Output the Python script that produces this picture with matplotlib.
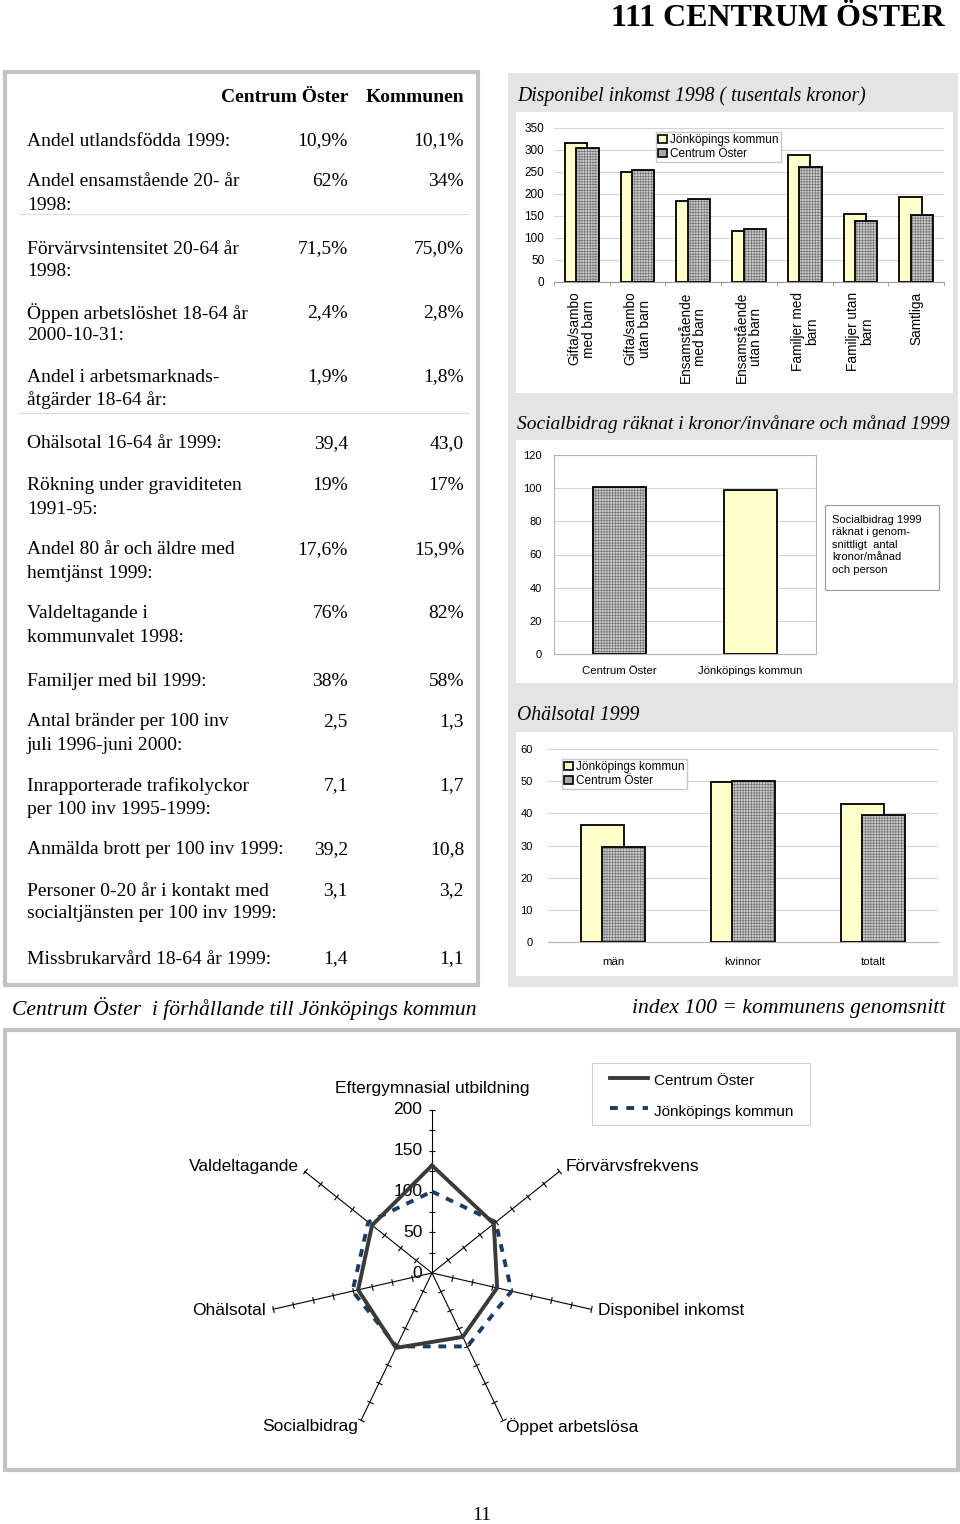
import matplotlib
matplotlib.use('Agg')
import matplotlib.pyplot as plt
from matplotlib.patches import Rectangle, Patch
from matplotlib.lines import Line2D
import numpy as np

# ---------------- data ----------------
page_title = "111 CENTRUM ÖSTER"
page_number = "11"

table_header = ["Centrum Öster", "Kommunen"]
table_labels = [
    "Andel utlandsfödda 1999:",
    "Andel ensamstående 20- år\n1998:",
    "Förvärvsintensitet 20-64 år\n1998:",
    "Öppen arbetslöshet 18-64 år\n2000-10-31:",
    "Andel i arbetsmarknads-\nåtgärder 18-64 år:",
    "Ohälsotal 16-64 år 1999:",
    "Rökning under graviditeten\n1991-95:",
    "Andel 80 år och äldre med\nhemtjänst 1999:",
    "Valdeltagande i\nkommunvalet 1998:",
    "Familjer med bil 1999:",
    "Antal bränder per 100 inv\njuli 1996-juni 2000:",
    "Inrapporterade trafikolyckor\nper 100 inv 1995-1999:",
    "Anmälda brott per 100 inv 1999:",
    "Personer 0-20 år i kontakt med\nsocialtjänsten per 100 inv 1999:",
    "Missbrukarvård 18-64 år 1999:",
]
table_centrum = ["10,9%", "62%", "71,5%", "2,4%", "1,9%", "39,4", "19%", "17,6%",
                 "76%", "38%", "2,5", "7,1", "39,2", "3,1", "1,4"]
table_kommun = ["10,1%", "34%", "75,0%", "2,8%", "1,8%", "43,0", "17%", "15,9%",
                "82%", "58%", "1,3", "1,7", "10,8", "3,2", "1,1"]

inc_title = "Disponibel inkomst 1998 ( tusentals kronor)"
inc_categories = ["Gifta/sambo\nmed barn", "Gifta/sambo\nutan barn", "Ensamstående\nmed barn",
                  "Ensamstående\nutan barn", "Familjer med\nbarn", "Familjer utan\nbarn", "Samtliga"]
inc_jkpg = [317, 250, 185, 117, 289, 154, 194]
inc_centrum = [304, 255, 189, 121, 261, 138, 153]
inc_ticks = [0, 50, 100, 150, 200, 250, 300, 350]

soc_title = "Socialbidrag räknat i kronor/invånare och månad 1999"
soc_categories = ["Centrum Öster", "Jönköpings kommun"]
soc_values = [101, 99]
soc_ticks = [0, 20, 40, 60, 80, 100, 120]
soc_note = "Socialbidrag 1999\nräknat i genom-\nsnittligt  antal\nkronor/månad\noch person"

ohl_title = "Ohälsotal 1999"
ohl_categories = ["män", "kvinnor", "totalt"]
ohl_jkpg = [36.3, 49.7, 43.0]
ohl_centrum = [29.6, 50.1, 39.4]
ohl_ticks = [0, 10, 20, 30, 40, 50, 60]

series_names = ["Jönköpings kommun", "Centrum Öster"]

radar_caption_left = "Centrum Öster  i förhållande till Jönköpings kommun"
radar_caption_right = "index 100 = kommunens genomsnitt"
radar_axes = ["Eftergymnasial utbildning", "Förvärvsfrekvens", "Disponibel inkomst",
              "Öppet arbetslösa", "Socialbidrag", "Ohälsotal", "Valdeltagande"]
radar_centrum = [132, 97, 82, 87, 102, 93, 94]
radar_jkpg = [100, 100, 100, 100, 100, 100, 100]
radar_ticks = [0, 50, 100, 150, 200]
radar_minor = [25, 50, 75, 100, 125, 150, 175, 200]

# ---------------- style ----------------
YELLOW = '#ffffcc'
HATCH_FACE = '#cbcbcb'
HATCH_COL = '#707070'
FRAME = '#c3c3c3'
PANEL = '#e4e4e4'
SANS = ['Liberation Sans', 'DejaVu Sans']
SERIF = ['Liberation Serif', 'DejaVu Serif']
plt.rcParams['font.family'] = SANS
plt.rcParams['hatch.linewidth'] = 0.45

W, H = 960, 1524
fig = plt.figure(figsize=(W / 100, H / 100), dpi=100)
fig.patch.set_facecolor('white')


def fbox(x0, y0, x1, y1):
    return [x0 / W, 1 - y1 / H, (x1 - x0) / W, (y1 - y0) / H]


bg = fig.add_axes([0, 0, 1, 1])
bg.set_xlim(0, W)
bg.set_ylim(H, 0)
bg.axis('off')

# page title / number
bg.text(945, 19, page_title, family=SERIF, fontweight='bold', fontsize=23, ha='right', va='center')
bg.text(482, 1515, page_number, family=SERIF, fontsize=14, ha='center', va='center')

# ---------------- left table ----------------
bg.add_patch(Rectangle((5, 72), 473, 913, fill=False, edgecolor=FRAME, lw=3))
bg.text(348, 98, table_header[0], family=SERIF, fontweight='bold', fontsize=14, ha='right', va='center')
bg.text(464, 98, table_header[1], family=SERIF, fontweight='bold', fontsize=14, ha='right', va='center')
row_y = [141, 182, 249, 313, 377, 444, 486, 550, 614, 681, 722, 786, 850, 891, 959]
for lab, vc, vk, y in zip(table_labels, table_centrum, table_kommun, row_y):
    for i, line in enumerate(lab.split('\n')):
        bg.text(27, y + 23 * i, line, family=SERIF, fontsize=14, ha='left', va='center')
    bg.text(348, y, vc, family=SERIF, fontsize=14, ha='right', va='center')
    bg.text(464, y, vk, family=SERIF, fontsize=14, ha='right', va='center')
for ysep in [214, 413]:
    bg.add_line(Line2D([20, 468], [ysep, ysep], color='#dadada', lw=0.8))

# ---------------- right panels ----------------
bg.add_patch(Rectangle((508, 73), 450, 914, facecolor=PANEL, edgecolor='none'))
for (y0, y1) in [(112, 393), (440, 683), (732, 976)]:
    bg.add_patch(Rectangle((516, y0), 437, y1 - y0, facecolor='white', edgecolor='none'))
bg.text(517, 96, inc_title, family=SERIF, style='italic', fontsize=14.2, ha='left', va='center')
bg.text(517, 424, soc_title, family=SERIF, style='italic', fontsize=14, ha='left', va='center')
bg.text(517, 716, ohl_title, family=SERIF, style='italic', fontsize=14.2, ha='left', va='center')


def hatched_bar(ax, x, h, w):
    ax.bar(x, h, w, color=HATCH_FACE, edgecolor=HATCH_COL, hatch='++++++', lw=0, zorder=4)
    ax.bar(x, h, w, fill=False, edgecolor='black', lw=1.3, zorder=5)


leg_handles = [Patch(facecolor=YELLOW, edgecolor='black', lw=1.2),
               Patch(facecolor='#a8a8a8', edgecolor='black', lw=1.2)]

# chart 1: income
ax1 = fig.add_axes(fbox(554, 128, 944, 282))
ax1.set_facecolor('none')
x1 = np.arange(len(inc_categories))
ax1.bar(x1 - 0.103, inc_jkpg, 0.4, color=YELLOW, edgecolor='black', lw=1.3, zorder=3)
hatched_bar(ax1, x1 + 0.103, inc_centrum, 0.4)
ax1.set_xlim(-0.5, len(inc_categories) - 0.5)
ax1.set_ylim(0, 350)
ax1.set_yticks(inc_ticks)
ax1.yaxis.grid(True, color='#d4d4d4', lw=0.8)
ax1.set_axisbelow(True)
for s in ['top', 'right', 'left']:
    ax1.spines[s].set_visible(False)
ax1.spines['bottom'].set_color('#9a9a9a')
ax1.tick_params(axis='y', length=0, labelsize=8.5, pad=7)
ax1.set_xticks(x1)
ax1.set_xticklabels(inc_categories, rotation=90, fontsize=9.8, linespacing=1.0,
                    va='top', ha='center', multialignment='center')
ax1.tick_params(axis='x', length=0, pad=7)
ax1.set_xticks(np.arange(-0.5, len(inc_categories), 1), minor=True)
ax1.tick_params(axis='x', which='minor', length=3, color='#9a9a9a')
ax1.legend(leg_handles, series_names, loc='upper left',
           bbox_to_anchor=(656 / W, 1 - 132 / H), bbox_transform=fig.transFigure,
           borderaxespad=0, fontsize=8.5, handlelength=0.7, handleheight=0.7,
           handletextpad=0.3, labelspacing=0.15, borderpad=0.2, frameon=True,
           fancybox=False, edgecolor='#c8c8c8', framealpha=1)

# chart 2: social assistance
ax2 = fig.add_axes(fbox(554, 455, 816, 654))
ax2.set_facecolor('white')
x2 = np.arange(len(soc_categories))
hatched_bar(ax2, x2[0], soc_values[0], 0.4)
ax2.bar(x2[1], soc_values[1], 0.4, color=YELLOW, edgecolor='black', lw=1.3, zorder=4)
ax2.set_xlim(-0.5, len(soc_categories) - 0.5)
ax2.set_ylim(0, 120)
ax2.set_yticks(soc_ticks)
ax2.yaxis.grid(True, color='#d4d4d4', lw=0.8)
ax2.set_axisbelow(True)
for s in ax2.spines.values():
    s.set_color('#b4b4b4')
ax2.tick_params(axis='y', length=0, labelsize=8, pad=9)
ax2.set_xticks(x2)
ax2.set_xticklabels(soc_categories, fontsize=8.2)
ax2.tick_params(axis='x', length=0, pad=9)
bg.add_patch(Rectangle((825, 505), 114, 85, facecolor='white', edgecolor='#9a9a9a', lw=0.8))
bg.text(832, 515, soc_note, fontsize=8, ha='left', va='top', linespacing=1.3)

# chart 3: ill-health
ax3 = fig.add_axes(fbox(548, 749, 938, 942))
ax3.set_facecolor('none')
x3 = np.arange(len(ohl_categories))
ax3.bar(x3 - 0.083, ohl_jkpg, 0.333, color=YELLOW, edgecolor='black', lw=1.3, zorder=3)
hatched_bar(ax3, x3 + 0.083, ohl_centrum, 0.333)
ax3.set_xlim(-0.5, len(ohl_categories) - 0.5)
ax3.set_ylim(0, 60)
ax3.set_yticks(ohl_ticks)
ax3.yaxis.grid(True, color='#d4d4d4', lw=0.8)
ax3.set_axisbelow(True)
for s in ['top', 'right', 'left']:
    ax3.spines[s].set_visible(False)
ax3.spines['bottom'].set_color('#b4b4b4')
ax3.tick_params(axis='y', length=0, labelsize=8, pad=11)
ax3.set_xticks(x3)
ax3.set_xticklabels(ohl_categories, fontsize=8.2)
ax3.tick_params(axis='x', length=0, pad=11)
ax3.legend(leg_handles, series_names, loc='upper left',
           bbox_to_anchor=(562 / W, 1 - 759 / H), bbox_transform=fig.transFigure,
           borderaxespad=0, fontsize=8.5, handlelength=0.7, handleheight=0.7,
           handletextpad=0.3, labelspacing=0.15, borderpad=0.2, frameon=True,
           fancybox=False, edgecolor='#c8c8c8', framealpha=1)

# ---------------- radar ----------------
bg.text(12, 1009, radar_caption_left, family=SERIF, style='italic', fontsize=15.6, ha='left', va='center')
bg.text(945, 1009, radar_caption_right, family=SERIF, style='italic', fontsize=15.6, ha='right', va='center')
bg.add_patch(Rectangle((5, 1030), 953, 440, fill=False, edgecolor=FRAME, lw=3))

cx, cy, R = 432, 1273, 163
axr = fig.add_axes(fbox(cx - R, cy - R, cx + R, cy + R), projection='polar')
axr.set_theta_zero_location('N')
axr.set_theta_direction(-1)
axr.set_ylim(0, 200)
axr.grid(False)
axr.spines['polar'].set_visible(False)
axr.set_xticks([])
axr.set_yticks([])
axr.patch.set_alpha(0)

n = len(radar_axes)
theta = np.arange(n) * 2 * np.pi / n
for th, lab in zip(theta, radar_axes):
    axr.plot([th, th], [0, 200], color='black', lw=0.8, zorder=2, clip_on=False)
    ang = -90 - np.degrees(th)
    axr.plot([th] * len(radar_minor), radar_minor, ls='none', marker=(2, 0, ang),
             ms=5, mew=0.8, color='black', zorder=2, clip_on=False)
    s = np.sin(th)
    if abs(s) < 0.1:
        axr.text(th, 226, lab, fontsize=12.5, ha='center', va='center')
    else:
        axr.text(th, 209, lab, fontsize=12.5, ha='left' if s > 0 else 'right', va='center')
for v in radar_ticks:
    axr.annotate(str(v), (0, v), xytext=(-7, 0), textcoords='offset points',
                 ha='right', va='center', fontsize=12.5)

th_c = np.append(theta, theta[0])
axr.plot(th_c, radar_jkpg + radar_jkpg[:1], color='#1c3d63', lw=2.8, dashes=(2.0, 2.0),
         zorder=3, clip_on=False)
axr.plot(th_c, radar_centrum + radar_centrum[:1], color='#3a3a3a', lw=2.8, zorder=4,
         clip_on=False, solid_joinstyle='miter')

# radar legend
bg.add_patch(Rectangle((592, 1063), 218, 62, facecolor='white', edgecolor='#d0d0d0', lw=0.8))
bg.add_line(Line2D([610, 648], [1078, 1078], color='#3a3a3a', lw=2.8))
bg.add_line(Line2D([610, 648], [1108, 1108], color='#1c3d63', lw=2.8, dashes=(2.0, 2.2)))
bg.text(654, 1081, "Centrum Öster", fontsize=11, ha='left', va='center')
bg.text(654, 1112, "Jönköpings kommun", fontsize=11, ha='left', va='center')

fig.savefig('out.png', dpi=100)
